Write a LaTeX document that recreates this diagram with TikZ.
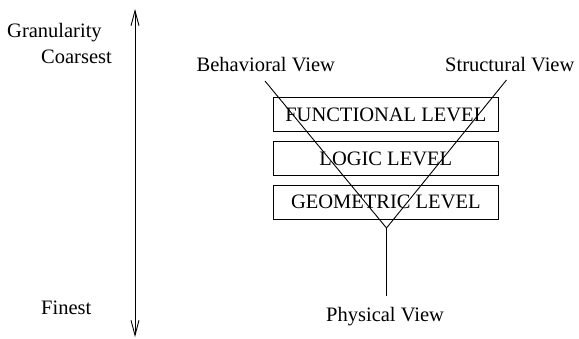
\documentclass[tikz,border=0pt]{standalone}
\usepackage{fontspec}
\setmainfont{Liberation Serif}
\usetikzlibrary{arrows.meta}
\begin{document}
\begin{tikzpicture}[x=1pt,y=-1pt,
  lbl/.style={inner sep=0pt,font=\fontsize{20.5}{24}\selectfont},
  levelbox/.style={draw,line width=0.9pt,minimum width=225pt,minimum height=34pt,inner sep=0pt,font=\fontsize{20.5}{24}\selectfont},
  conn/.style={line width=0.9pt},
  scalearrow/.style={line width=0.9pt,{Straight Barb[length=15pt,width=8pt]}-{Straight Barb[length=15pt,width=8pt]}}]
\useasboundingbox (0,0) rectangle (579,338);
% granularity scale
\coordinate (top) at (135,9);
\coordinate (bottom) at (135,337);
\draw[scalearrow] (top) -- (bottom);
\node[lbl,anchor=base west] (gran) at (7,37.5) {Granularity};
\node[lbl,anchor=base west] (coarse) at (41,63.5) {Coarsest};
\node[lbl,anchor=base west] (fine) at (41,314) {Finest};
% views
\node[lbl,anchor=base west] (bv) at (196.5,71.5) {Behavioral View};
\node[lbl,anchor=base west] (sv) at (445,71.5) {Structural View};
\node[lbl,anchor=base west] (pv) at (326,321) {Physical View};
% levels
\node[levelbox] (f) at (385.8,114.7) {FUNCTIONAL LEVEL};
\node[levelbox] (l) at (385.8,158.7) {LOGIC LEVEL};
\node[levelbox] (g) at (385.8,202) {GEOMETRIC LEVEL};
% Y lines
\coordinate (bvend) at (265,81);
\coordinate (svend) at (506.5,80);
\coordinate (apex) at (386.5,228);
\coordinate (pvend) at (386.5,296);
\draw[conn] (bvend) -- (apex);
\draw[conn] (svend) -- (apex);
\draw[conn] (apex) -- (pvend);
\end{tikzpicture}
\end{document}
